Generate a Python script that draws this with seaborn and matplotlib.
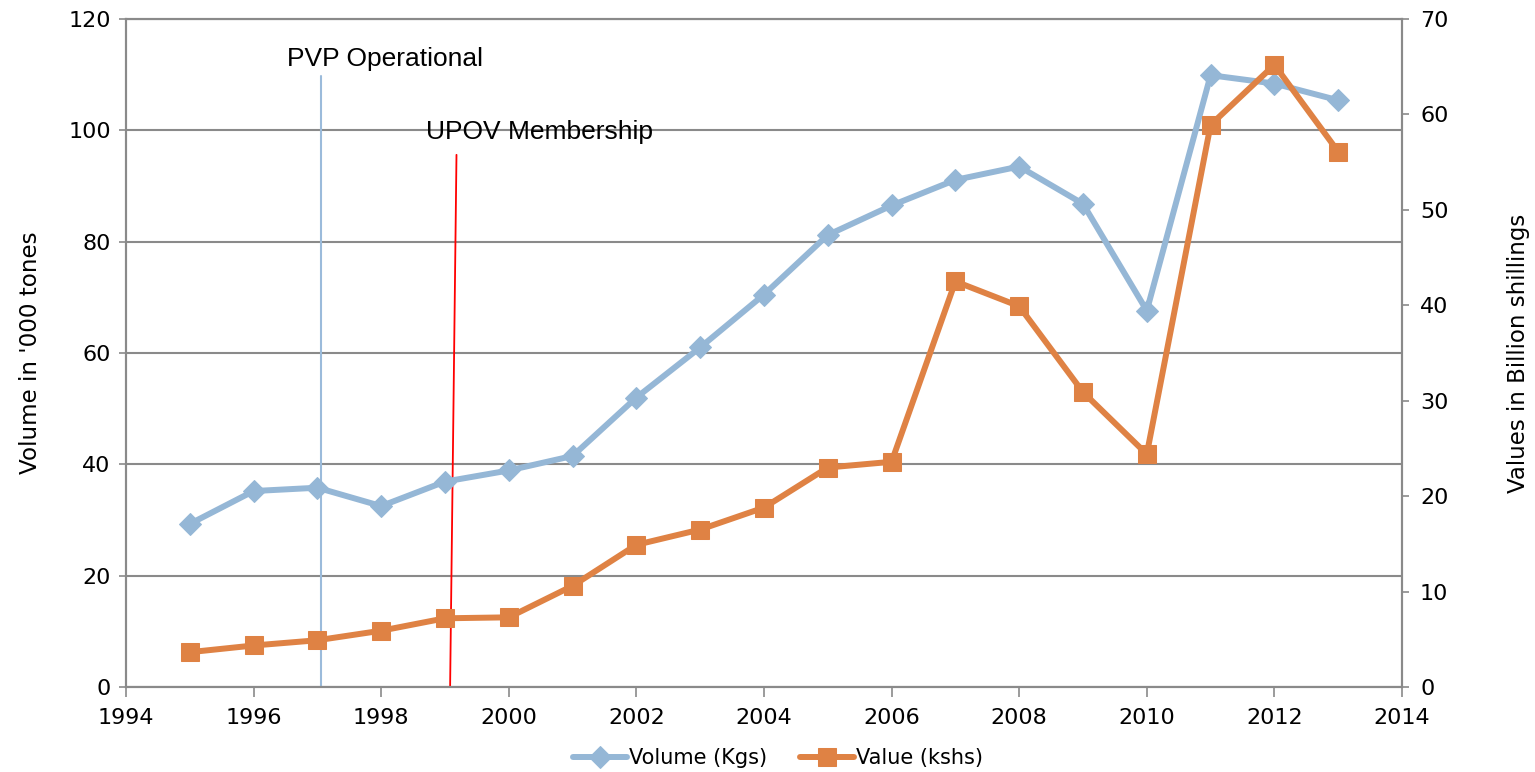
import matplotlib
matplotlib.use("Agg")
import matplotlib.pyplot as plt
import seaborn as sns
import pandas as pd

years = list(range(1995, 2014))
volume = [29.3, 35.2, 35.8, 32.5, 36.9, 38.9, 41.5, 52.0, 61.0, 70.5,
          81.2, 86.5, 91.1, 93.5, 86.8, 67.6, 109.9, 108.4, 105.4]
value = [3.65, 4.35, 4.9, 5.9, 7.2, 7.3, 10.6, 14.9, 16.5, 18.8,
         23.0, 23.6, 42.5, 39.9, 30.9, 24.4, 58.9, 65.2, 56.1]
series_names = ["Volume (Kgs)", "Value (kshs)"]
left_ticks = [0, 20, 40, 60, 80, 100, 120]
right_ticks = [0, 10, 20, 30, 40, 50, 60, 70]
x_ticks = [1994, 1996, 1998, 2000, 2002, 2004, 2006, 2008, 2010, 2012, 2014]
pvp_x = [1997.05, 1997.05]
pvp_y = [0, 109.8]
upov_x = [1999.08, 1999.18]
upov_y = [0, 95.6]
pvp_label = "PVP Operational"
upov_label = "UPOV Membership"

df = pd.DataFrame({"year": years, "volume": volume, "value": value})

sns.set_theme(style="white")
plt.rcParams["font.family"] = ["DejaVu Sans"]

BLUE = "#95B7D6"
ORANGE = "#DF8244"
GRID = "#8A8A8A"

fig = plt.figure(figsize=(15.35, 7.72), dpi=100)
ax = fig.add_axes([126/1535, 1 - 687/772, (1402-126)/1535, (687-19)/772])
ax2 = ax.twinx()

sns.lineplot(data=df, x="year", y="volume", ax=ax, color=BLUE, lw=4.3,
             marker="D", markersize=11, markeredgecolor=BLUE,
             label=series_names[0], legend=False)
sns.lineplot(data=df, x="year", y="value", ax=ax2, color=ORANGE, lw=4.3,
             marker="s", markersize=13.5, markeredgecolor=ORANGE,
             label=series_names[1], legend=False)

ax.plot(pvp_x, pvp_y, color="#9BBBDB", lw=1.5, zorder=1)
ax.plot(upov_x, upov_y, color="#FF0000", lw=1.3, zorder=1)

ax.text(1996.52, 112.8, pvp_label, fontsize=19, family=["Liberation Sans"],
        va="center", ha="left", color="black")
ax.text(1998.70, 99.7, upov_label, fontsize=19, family=["Liberation Sans"],
        va="center", ha="left", color="black")

ax.set_xlim(1994, 2014)
ax.set_ylim(0, 120)
ax2.set_ylim(0, 70)
ax.set_xticks(x_ticks)
ax.set_yticks(left_ticks)
ax2.set_yticks(right_ticks)

ax.grid(axis="y", color=GRID, lw=1.5)
ax.grid(axis="x", visible=False)
ax2.grid(False)
ax.set_axisbelow(True)

for a in (ax, ax2):
    for s in a.spines.values():
        s.set_color(GRID)
        s.set_linewidth(1.5)

ax.tick_params(axis="both", labelsize=16, colors="black", length=6,
               width=1.2, direction="out", color=GRID, pad=8)
ax.tick_params(axis="y", pad=6, left=True, length=5)
ax.tick_params(axis="x", bottom=True, length=7)
ax2.tick_params(axis="y", labelsize=16, colors="black", right=True,
                length=5, width=1.2, color=GRID, pad=8)

ax.set_xlabel("")
ax.set_ylabel("Volume in '000 tones", fontsize=16.6, labelpad=19, color="black")
ax2.set_ylabel("Values in Billion shillings", fontsize=16.5, labelpad=42, color="black")

h1, l1 = ax.get_legend_handles_labels()
h2, l2 = ax2.get_legend_handles_labels()
leg_h = [h for h, l in zip(h1, l1) if l == series_names[0]] + \
        [h for h, l in zip(h2, l2) if l == series_names[1]]
leg = fig.legend(leg_h, series_names, loc="center",
                 bbox_to_anchor=(778/1535, 1 - 758/772),
                 ncol=2, frameon=False, fontsize=15, handlelength=2.6,
                 columnspacing=1.6, handletextpad=0.1)
for t in leg.get_texts():
    t.set_color("black")

fig.savefig("out.png", dpi=100)
